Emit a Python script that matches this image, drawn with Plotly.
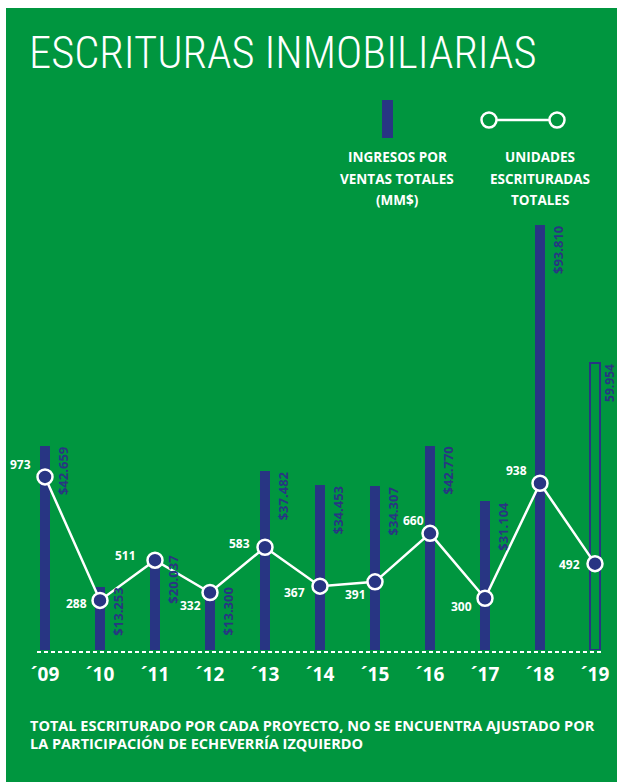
import plotly.graph_objects as go

# ---------------- data ----------------
years = ["´09", "´10", "´11", "´12", "´13", "´14", "´15", "´16", "´17", "´18", "´19"]
ingresos = [42659, 13253, 20037, 13300, 37482, 34453, 34307, 42770, 31104, 93810, 59954]
ingresos_labels = ["$42.659", "$13.253", "$20.037", "$13.300", "$37.482", "$34.453",
                   "$34.307", "$42.770", "$31.104", "$93.810", "59.954"]
unidades = [973, 288, 511, 332, 583, 367, 391, 660, 300, 938, 492]

# ---------------- style ----------------
W, H = 617, 782
PL, PR, PT, PB = 10, 610, 225, 650   # plot area in page pixels
L, R, T, B = PL, W - PR, PT, H - PB
GREEN = "#00963F"
NAVY = "#283583"
WHITE = "#FFFFFF"
BOLD = "Open Sans"
PW = PR - PL
PH = PB - PT
Y1_MAX = 88900
Y2_RANGE = [13, 2370]
# offsets (px) for the unit labels: (dx of right edge, dy of centre)
unit_label_offsets = [(-13, -12), (-12, 3), (-18, -5), (-8, 13), (-14, -4), (-14, 6),
                      (-8, 13), (-5, -13), (-12, 8), (-12, -13), (-14, 1)]
# shift / size of the bar value labels
bar_label_shift = [8] * 10 + [5]
bar_label_size = [13] * 10 + [12]


def fx(px):
    return (px - PL) / PW


def fy(py):
    return (PB - py) / PH


xs = list(range(len(years)))
n = len(xs)

fig = go.Figure()

bar_colors = [NAVY] * (n - 1) + ["rgba(0,0,0,0)"]
bar_line_w = [0] * (n - 1) + [2]
fig.add_trace(go.Bar(
    x=xs, y=ingresos, width=0.18,
    marker=dict(color=bar_colors, line=dict(color=NAVY, width=bar_line_w)),
    hoverinfo="skip", showlegend=False,
))
fig.add_trace(go.Scatter(
    x=xs, y=unidades, yaxis="y2", mode="lines+markers",
    line=dict(color=WHITE, width=2.5),
    marker=dict(size=15, color=NAVY, line=dict(color=WHITE, width=2.5)),
    cliponaxis=False, hoverinfo="skip", showlegend=False,
))

ann = []
# title
ann.append(dict(x=fx(27), y=fy(53), xref="paper", yref="paper", xanchor="left", yanchor="middle",
                text="ESCRITURAS INMOBILIARIAS", showarrow=False,
                font=dict(family="Roboto Condensed", size=44.5, weight=300, color=WHITE)))
# legend texts
for i, t in enumerate(["INGRESOS POR", "VENTAS TOTALES", "(MM$)"]):
    ann.append(dict(x=fx(397), y=fy(157 + 21.5 * i), xref="paper", yref="paper",
                    xanchor="center", yanchor="middle", text=t, showarrow=False,
                    font=dict(family=BOLD, size=13.5, weight=700, color=WHITE)))
for i, t in enumerate(["UNIDADES", "ESCRITURADAS", "TOTALES"]):
    ann.append(dict(x=fx(540), y=fy(157 + 21.5 * i), xref="paper", yref="paper",
                    xanchor="center", yanchor="middle", text=t, showarrow=False,
                    font=dict(family=BOLD, size=13.5, weight=700, color=WHITE)))
# footer
for i, t in enumerate(["TOTAL ESCRITURADO POR CADA PROYECTO, NO SE ENCUENTRA AJUSTADO POR",
                       "LA PARTICIPACIÓN DE ECHEVERRÍA IZQUIERDO"]):
    ann.append(dict(x=fx(28), y=fy(725 + 18 * i), xref="paper", yref="paper",
                    xanchor="left", yanchor="middle", text=t, showarrow=False,
                    font=dict(family=BOLD, size=14.5, weight=700, color=WHITE)))
# bar value labels
for x, v, lab, sh, sz in zip(xs, ingresos, ingresos_labels, bar_label_shift, bar_label_size):
    ann.append(dict(x=x, y=min(v, Y1_MAX), xref="x", yref="y", xanchor="left", yanchor="top",
                    xshift=sh, text=lab, textangle=-90, showarrow=False, borderpad=0,
                    font=dict(family=BOLD, size=sz, weight=700, color=NAVY)))
# unit labels
for x, u, (dx, dy) in zip(xs, unidades, unit_label_offsets):
    ann.append(dict(x=x, y=u, xref="x", yref="y2", xanchor="right", yanchor="middle",
                    xshift=dx, yshift=-dy, text=str(u), showarrow=False, borderpad=0,
                    font=dict(family=BOLD, size=12, weight=700, color=WHITE)))

shapes = [
    # green panel (white page edge at top and left)
    dict(type="rect", xref="paper", yref="paper", x0=fx(6), x1=fx(W + 5), y0=fy(H + 5), y1=fy(8),
         fillcolor=GREEN, line=dict(width=0), layer="below"),
    # dashed baseline
    dict(type="line", xref="paper", yref="paper", x0=fx(37), x1=fx(602), y0=fy(652), y1=fy(652),
         line=dict(color=WHITE, width=2, dash="4px,3px")),
    # legend: bar swatch
    dict(type="rect", xref="paper", yref="paper", x0=fx(382), x1=fx(393), y0=fy(138), y1=fy(100),
         fillcolor=NAVY, line=dict(width=0)),
    # legend: line with hollow circles
    dict(type="line", xref="paper", yref="paper", x0=fx(489), x1=fx(557), y0=fy(120), y1=fy(120),
         line=dict(color=WHITE, width=2.5)),
]
for cx in (489, 557):
    shapes.append(dict(type="circle", xref="paper", yref="paper", x0=fx(cx - 7.5), x1=fx(cx + 7.5),
                       y0=fy(127.5), y1=fy(112.5), fillcolor=GREEN,
                       line=dict(color=WHITE, width=2.5)))

x0 = -(45 - PL) / 55
fig.update_layout(
    width=W, height=H, margin=dict(l=L, r=R, t=T, b=B),
    paper_bgcolor=WHITE, plot_bgcolor="rgba(0,0,0,0)",
    xaxis=dict(range=[x0, x0 + PW / 55], tickmode="array", tickvals=xs, ticktext=years,
               showgrid=False, zeroline=False, showline=False, ticks="", ticklabelstandoff=11,
               tickfont=dict(family=BOLD, size=19, weight=700, color=WHITE), fixedrange=True),
    yaxis=dict(range=[0, Y1_MAX], visible=False, fixedrange=True),
    yaxis2=dict(range=Y2_RANGE, overlaying="y", visible=False, fixedrange=True),
    annotations=ann, shapes=shapes, bargap=0, showlegend=False,
)

fig.write_html("out.html", config={"displayModeBar": False},
               post_script="document.body.style.margin='0';document.body.style.overflow='hidden';")
